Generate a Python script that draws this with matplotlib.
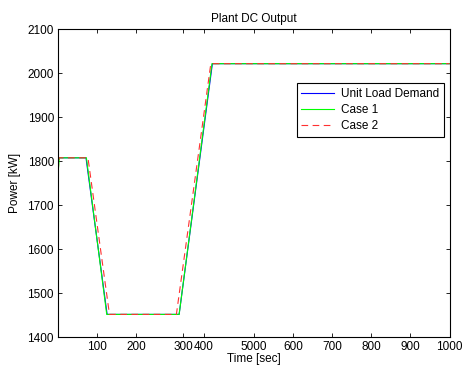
#!/usr/bin/env python3
"""Plant DC output: unit load demand vs. two simulated cases."""
import matplotlib
matplotlib.use('Agg')
import matplotlib.pyplot as plt

# unit load demand profile (time in s, power in kW)
demand_t = [0, 71, 125, 309, 394, 1000]
demand_p = [1808, 1808, 1452, 1452, 2022, 2022]

# case 1 follows demand closely
case1_t = [0, 3, 72, 124, 309, 393, 1000]
case1_p = [1778, 1808, 1808, 1452, 1452, 2022, 2022]

# case 2 lags on the way down, leads on the way up
case2_t = [0, 2, 76, 131, 302, 390, 1000]
case2_p = [1778, 1808, 1808, 1452, 1452, 2022, 2022]

xtick_pos = [100, 200, 319, 372, 500, 600, 700, 800, 900, 1000]
xtick_lbl = ['100', '200', '300', '400', '5000', '600', '700', '800', '900', '1000']
ytick_pos = [1400, 1500, 1600, 1700, 1800, 1900, 2000, 2100]

plt.rcParams['font.family'] = ['Liberation Sans', 'DejaVu Sans']
plt.rcParams['font.size'] = 8.5

fig = plt.figure(figsize=(4.62, 3.67), dpi=100)
ax = fig.add_axes([0.126, 0.081, 0.847, 0.839])

ax.plot(demand_t, demand_p, color='#0000ff', lw=0.8, label='Unit Load Demand')
ax.plot(case1_t, case1_p, color='#00ff00', lw=0.8, label='Case 1')
ax.plot(case2_t, case2_p, color='#ff3030', lw=0.8, ls=(0, (6, 4)), label='Case 2')

ax.set_xlim(0, 1000)
ax.set_ylim(1400, 2100)
ax.set_xticks(xtick_pos)
ax.set_xticklabels(xtick_lbl)
ax.set_yticks(ytick_pos)
ax.tick_params(direction='in', top=True, right=True, length=3, width=0.6, pad=3)
for s in ax.spines.values():
    s.set_linewidth(0.8)

ax.set_title('Plant DC Output', fontsize=8.5, pad=5)
ax.set_xlabel('Time [sec]', labelpad=0)
ax.set_ylabel('Power [kW]', labelpad=5)

leg = ax.legend(loc='upper right', bbox_to_anchor=(0.985, 0.825), fancybox=False,
                edgecolor='black', framealpha=1, handlelength=2.8, handletextpad=0.55,
                borderpad=0.4, labelspacing=0.35, borderaxespad=0)
leg.get_frame().set_linewidth(0.8)

fig.savefig('out.png', dpi=100)
